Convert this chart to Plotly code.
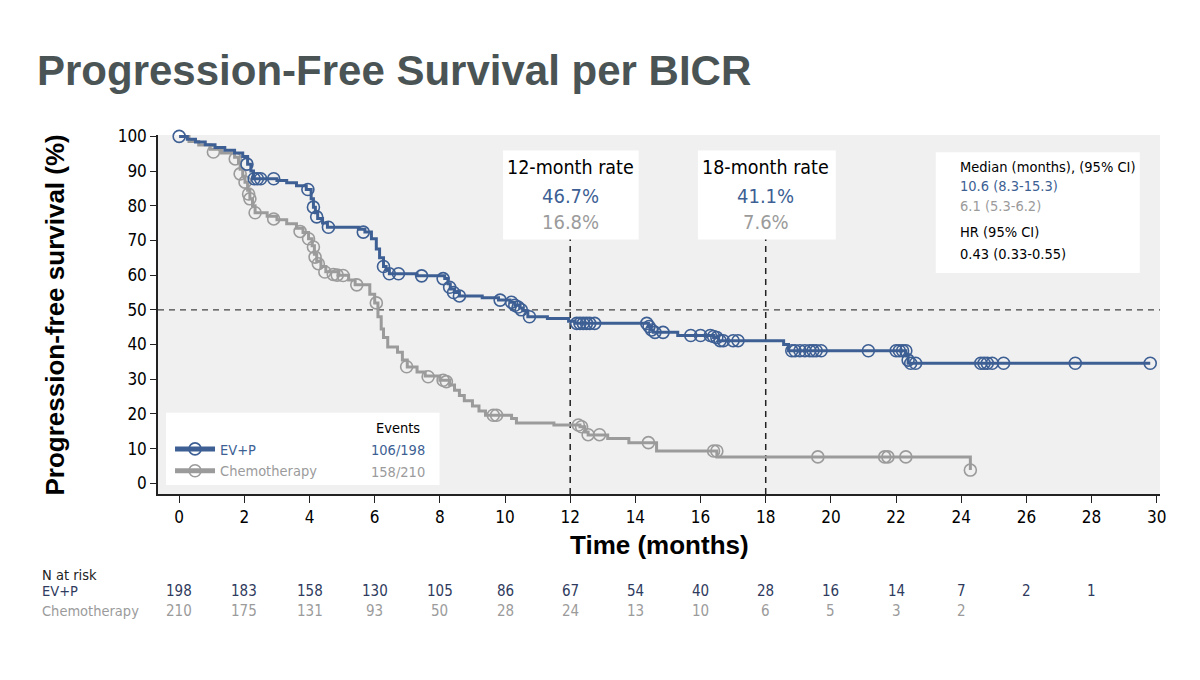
import plotly.graph_objects as go

# ---------------- data ----------------
x_ticks = list(range(0, 31, 2))
y_ticks = list(range(0, 101, 10))

evp_t = [0, 0.25, 0.5, 0.8, 1.1, 1.4, 1.7, 1.95, 2.1, 2.2, 2.28, 3.0, 3.3, 3.6, 3.9, 4.05, 4.12, 4.18, 4.25,
         4.4, 4.55, 5.5, 5.7, 5.9, 6.05, 6.15, 6.27, 6.35, 6.45, 7.3, 8.15, 8.25, 8.32, 8.45, 8.6, 9.3, 9.8,
         10.15, 10.3, 10.45, 10.55, 10.7, 11.3, 11.95, 12.15, 14.4, 14.48, 14.55, 15.3, 16.4, 16.55, 18.55,
         18.7, 22.3, 22.37, 29.8]
evp_s = [100, 99.2, 98.4, 97.6, 96.8, 96, 95.2, 94.2, 92, 90, 87.8, 87.3, 86.6, 85.8, 84.7, 82, 79.6, 78, 76.3,
         75, 73.8, 73.2, 72.4, 70.5, 67.5, 65, 62.5, 61.5, 60.4, 59.8, 59, 57.5, 56, 55, 54, 53.5, 52.8,
         52.2, 51.3, 50.5, 49.7, 48, 47.5, 46.7, 46.1, 45.2, 44.2, 43.5, 42.6, 42.0, 41.1, 40.0,
         38.2, 37.2, 34.6, 34.6]

evp_cens_t = [0, 2.08, 2.3, 2.4, 2.5, 2.9, 3.95, 4.12, 4.22, 4.58, 5.65, 6.27, 6.45, 6.73, 7.44, 8.1, 8.3,
              8.42, 8.6, 9.85, 10.2, 10.3, 10.4, 10.5, 10.75, 12.2, 12.3, 12.4, 12.5, 12.6, 12.75, 14.35,
              14.42, 14.5, 14.6, 14.85, 15.7, 16.0, 16.3, 16.4, 16.5, 16.6, 16.7, 17.0, 17.15, 18.8, 18.9,
              19.05, 19.2, 19.35, 19.45, 19.55, 19.7, 21.15, 22.0, 22.1, 22.2, 22.3, 22.37, 22.45, 22.6,
              24.6, 24.7, 24.8, 24.95, 25.3, 27.5, 29.8]
evp_cens_s = [100, 92, 87.8, 87.8, 87.8, 87.8, 84.7, 79.6, 76.8, 73.8, 72.4, 62.5, 60.4, 60.4, 59.8, 59, 56.5,
              55, 54, 52.8, 52.2, 51.3, 50.8, 50, 48, 46.1, 46.1, 46.1, 46.1, 46.1, 46.1, 46.1,
              45.2, 44.2, 43.5, 43.5, 42.6, 42.6, 42.6, 42.3, 42.0, 41.1, 41.1, 41.1, 41.1, 38.2, 38.2,
              38.2, 38.2, 38.2, 38.2, 38.2, 38.2, 38.2, 38.2, 38.2, 38.2, 38.2, 35.5, 34.6, 34.6,
              34.6, 34.6, 34.6, 34.6, 34.6, 34.6, 34.6]

chemo_t = [0, 0.3, 0.6, 0.95, 1.3, 1.7, 1.82, 1.87, 1.95, 2.02, 2.1, 2.17, 2.25, 2.33, 2.7, 3.0, 3.3, 3.6,
           3.8, 3.97, 4.08, 4.15, 4.22, 4.35, 4.5, 4.9, 5.2, 5.4, 5.85, 6.0, 6.1, 6.2, 6.27, 6.4, 6.7, 6.85,
           7.0, 7.3, 7.55, 8.0, 8.3, 8.45, 8.6, 8.75, 9.0, 9.2, 9.4, 10.2, 10.35, 11.5, 12.3, 12.45, 12.55,
           13.15, 13.8, 14.65, 16.5, 24.28]
chemo_s = [100, 98.5, 97.5, 96.3, 95.2, 94, 92.5, 90.5, 88.5, 86.8, 84.5, 82, 80, 78, 77, 76, 74.8, 73.5,
           72.3, 70.5, 68.5, 66, 64, 62.5, 61, 60, 58.6, 57.2, 54.5, 52, 48, 44.5, 42, 39.3, 37.8, 35.5,
           33.5, 32.1, 30.9, 29.7, 28.3, 26.8, 25.3, 23.8, 22.3, 20.8, 19.6, 18.7, 17.4, 16.8, 16.3, 14.8, 13.9,
           12.9, 11.7, 9.3, 7.6, 3.8]

chemo_cens_t = [1.05, 1.72, 1.87, 2.02, 2.13, 2.17, 2.33, 2.9, 3.71, 3.97, 4.12, 4.17, 4.27, 4.47, 4.73, 4.85,
                5.03, 5.45, 6.05, 6.98, 7.64, 8.1, 8.2, 9.64, 9.74, 12.25, 12.35, 12.55, 12.9, 14.4, 16.4,
                16.5, 19.6, 21.65, 21.75, 22.3, 24.28]
chemo_cens_s = [95.5, 93.5, 89.2, 86.8, 83.4, 82, 78, 76.2, 72.6, 70.5, 68.1, 65.2, 63.3, 60.9, 60.2, 60,
                59.9, 57.2, 52, 33.6, 30.7, 29.7, 29.3, 19.6, 19.6, 16.8, 16.3, 14, 14, 11.7, 9.3,
                9.3, 7.6, 7.6, 7.6, 7.6, 3.8]

arm_names = ["EV+P", "Chemotherapy"]
arm_events = ["106/198", "158/210"]

risk_t = list(range(0, 29, 2))
evp_risk = [198, 183, 158, 130, 105, 86, 67, 54, 40, 28, 16, 14, 7, 2, 1]
chemo_risk = [210, 175, 131, 93, 50, 28, 24, 13, 10, 6, 5, 3, 2]

landmarks = [12, 18]
evp_rates = ["46.7%", "41.1%"]
chemo_rates = ["16.8%", "7.6%"]

median_lines = ["Median (months), (95% CI)", "10.6 (8.3-15.3)", "6.1 (5.3-6.2)", "HR (95% CI)", "0.43 (0.33-0.55)"]

# ---------------- style ----------------
BLUE = "#3d5f94"
GREY = "#9b9b9b"
NAVY = "#2f3b5e"
NARROW = "DejaVu Sans Condensed, Liberation Sans Narrow, sans-serif"
BOLD = "Liberation Sans, Arial, Helvetica, sans-serif"
SMALL = 14.5

fig = go.Figure()

for t, s, ct, cs, col in [(chemo_t, chemo_s, chemo_cens_t, chemo_cens_s, GREY),
                          (evp_t, evp_s, evp_cens_t, evp_cens_s, BLUE)]:
    fig.add_trace(go.Scatter(x=t, y=s, mode="lines", line=dict(color=col, width=3, shape="hv"),
                             showlegend=False, cliponaxis=False, hoverinfo="skip"))
    fig.add_trace(go.Scatter(x=ct, y=cs, mode="markers",
                             marker=dict(symbol="circle-open", size=12, color=col, line=dict(width=1.6, color=col)),
                             showlegend=False, cliponaxis=False, hoverinfo="skip"))

# legend entries (no data)
for name, col in zip(arm_names, [BLUE, GREY]):
    fig.add_trace(go.Scatter(x=[None], y=[None], mode="lines+markers",
                             name=f'<span style="color:{col}">{name}</span>',
                             line=dict(color=col, width=5),
                             marker=dict(symbol="circle-open", size=12, color=col, line=dict(width=1.6, color=col))))

shapes = []
shapes.append(dict(type="line", xref="paper", yref="y", x0=0, x1=1, y0=50, y1=50,
                   line=dict(color="#444444", width=1.3, dash="6px,5px"), layer="below"))
for lm in landmarks:
    shapes.append(dict(type="line", xref="x", yref="y", x0=lm, x1=lm, y0=-3.1, y1=72,
                       line=dict(color="#222222", width=1.5, dash="6px,5px"), layer="below"))
shapes.append(dict(type="rect", xref="x", yref="y", x0=9.94, x1=14.1, y0=70.3, y1=95.9,
                   fillcolor="white", line=dict(width=0), layer="below"))
shapes.append(dict(type="rect", xref="x", yref="y", x0=15.92, x1=20.15, y0=70.3, y1=95.9,
                   fillcolor="white", line=dict(width=0), layer="below"))
shapes.append(dict(type="rect", xref="x", yref="y", x0=23.22, x1=29.48, y0=60.6, y1=95.4,
                   fillcolor="white", line=dict(width=0), layer="below"))
shapes.append(dict(type="rect", xref="paper", yref="paper", x0=0.008, x1=0.281, y0=0.025, y1=0.226,
                   fillcolor="white", line=dict(width=0), layer="below"))


def A(text, x, y, xref, yref, size, color, family=NARROW, xanchor="center", yanchor="middle", **kw):
    return dict(text=text, x=x, y=y, xref=xref, yref=yref, xanchor=xanchor, yanchor=yanchor,
                showarrow=False, font=dict(family=family, size=size, color=color), **kw)


ann = []
ann.append(A("<b>Progression-Free Survival per BICR</b>", -0.1228, 1.181, "paper", "paper", 42, "#4b5455",
             family=BOLD, xanchor="left"))
ann.append(A("<b>Progression-free survival (%)</b>", -0.1028, 0.5, "paper", "paper", 26, "black",
             family=BOLD, textangle=-90))
ann.append(A("<b>Time (months)</b>", 0.5, -0.142, "paper", "paper", 26, "black", family=BOLD))
for lm, r1, r2 in zip(landmarks, evp_rates, chemo_rates):
    ann.append(A(f"{lm}-month rate", lm, 91.0, "x", "y", 19.5, "black"))
    ann.append(A(r1, lm, 82.9, "x", "y", 20, BLUE))
    ann.append(A(r2, lm, 75.2, "x", "y", 20, GREY))
for txt, yy, col in zip(median_lines, [91.1, 85.6, 80.0, 72.4, 66.2], ["black", BLUE, GREY, "black", "black"]):
    ann.append(A(txt, 23.9, yy, "x", "y", SMALL, col, xanchor="left"))
ann.append(A("Events", 0.2395, 0.1838, "paper", "paper", SMALL, "black"))
for ev, yy, col in zip(arm_events, [0.1226, 0.0621], [BLUE, GREY]):
    ann.append(A(ev, 0.2395, yy, "paper", "paper", SMALL, col))
ann.append(A("N at risk", -0.1178, -0.2256, "paper", "paper", SMALL, "#222222", xanchor="left"))
ann.append(A(arm_names[0], -0.1178, -0.270, "paper", "paper", SMALL, NAVY, xanchor="left"))
ann.append(A(arm_names[1], -0.1178, -0.326, "paper", "paper", SMALL, GREY, xanchor="left"))
for t, n in zip(risk_t, evp_risk):
    ann.append(A(str(n), t, -0.270, "x", "paper", 15, NAVY))
for t, n in zip(risk_t, chemo_risk):
    ann.append(A(str(n), t, -0.326, "x", "paper", 15, GREY))

fig.update_layout(
    width=1200, height=680,
    margin=dict(l=158, r=40, t=135, b=186),
    paper_bgcolor="white", plot_bgcolor="#f0f0f0",
    font=dict(family=NARROW, size=SMALL, color="black"),
    shapes=shapes, annotations=ann,
    showlegend=True,
    legend=dict(x=0.012, y=0.17, xanchor="left", yanchor="top", bgcolor="rgba(0,0,0,0)",
                font=dict(family=NARROW, size=SMALL), tracegroupgap=0, itemwidth=40),
    xaxis=dict(range=[-0.65, 30.1], tickvals=x_ticks, ticks="outside", ticklen=7, tickwidth=1.3,
               tickcolor="#222", showline=True, linecolor="#222", linewidth=1.5, showgrid=False,
               zeroline=False, tickfont=dict(family=NARROW, size=17, color="black")),
    yaxis=dict(range=[-3.1, 100.4], tickvals=y_ticks, ticks="outside", ticklen=6, tickwidth=1.3,
               tickcolor="#222", showline=True, linecolor="#222", linewidth=1.5, showgrid=False,
               zeroline=False, tickfont=dict(family=NARROW, size=17, color="black")),
)

fig.write_html("out.html")
